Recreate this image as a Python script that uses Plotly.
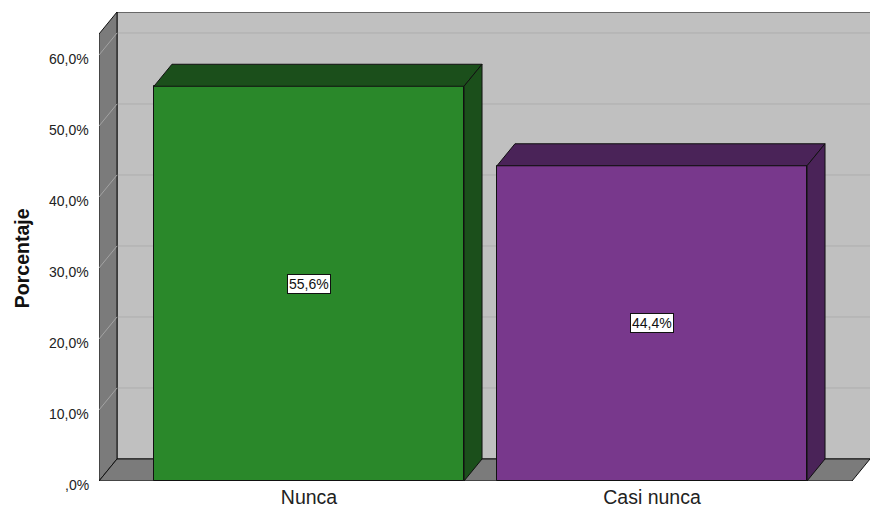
import plotly.graph_objects as go

# ---- data ----
categories = ["Nunca", "Casi nunca"]
values = [55.6, 44.4]
value_labels = ["55,6%", "44,4%"]
tick_values = [0, 10, 20, 30, 40, 50, 60]
tick_labels = [",0%", "10,0%", "20,0%", "30,0%", "40,0%", "50,0%", "60,0%"]
front_colors = ["#2a882a", "#78388c"]
dark_colors = ["#1b4f1b", "#4a2358"]

# ---- geometry (axis units) ----
X_MIN, X_MAX = -0.6122, 1.6356
Y_MAX = 66.06
DX = 0.0525      # depth offset in x units
DY = 3.10        # depth offset in y units
WALL_TOP = Y_MAX - DY
FLOOR_RIGHT = X_MAX - DX
BAR_W = 0.904
xpos = list(range(len(categories)))

WALL_BACK = "#c0c0c0"
WALL_SIDE = "#7b7b7b"
FONT = "Arial, Liberation Sans, sans-serif"

fig = go.Figure()
fig.add_trace(go.Bar(
    x=xpos, y=values, width=BAR_W,
    marker=dict(color=front_colors, line=dict(color="#111111", width=1)),
    hoverinfo="skip", showlegend=False,
))

shapes = []
# back wall
shapes.append(dict(type="rect", xref="x", yref="y", layer="below",
                   x0=X_MIN + DX, x1=X_MAX + 0.05, y0=DY, y1=Y_MAX,
                   fillcolor=WALL_BACK, line=dict(color="#111111", width=1)))
# back gridlines
for v in tick_values[1:]:
    shapes.append(dict(type="line", xref="x", yref="y", layer="below",
                       x0=X_MIN + DX, x1=X_MAX, y0=v + DY, y1=v + DY,
                       line=dict(color="#adadad", width=1)))
# side wall
shapes.append(dict(type="path", xref="x", yref="y", layer="below",
                   path=f"M {X_MIN},0 L {X_MIN},{WALL_TOP} L {X_MIN+DX},{Y_MAX} L {X_MIN+DX},{DY} Z",
                   fillcolor=WALL_SIDE, line=dict(color="#111111", width=1)))
for v in tick_values[1:]:
    shapes.append(dict(type="line", xref="x", yref="y", layer="below",
                       x0=X_MIN, x1=X_MIN + DX, y0=v, y1=v + DY,
                       line=dict(color="#a3a3a3", width=1)))
# floor
shapes.append(dict(type="path", xref="x", yref="y", layer="below",
                   path=f"M {X_MIN},0 L {FLOOR_RIGHT},0 L {X_MAX},{DY} L {X_MIN+DX},{DY} Z",
                   fillcolor=WALL_SIDE, line=dict(color="#111111", width=1)))

# bar top & side faces
for i, v in enumerate(values):
    x0 = xpos[i] - BAR_W / 2
    x1 = xpos[i] + BAR_W / 2
    shapes.append(dict(type="path", xref="x", yref="y",
                       path=f"M {x0},{v} L {x0+DX},{v+DY} L {x1+DX},{v+DY} L {x1},{v} Z",
                       fillcolor=dark_colors[i], line=dict(color="#111111", width=1)))
    shapes.append(dict(type="path", xref="x", yref="y",
                       path=f"M {x1},0 L {x1+DX},{DY} L {x1+DX},{v+DY} L {x1},{v} Z",
                       fillcolor=dark_colors[i], line=dict(color="#111111", width=1)))

annotations = []
for i, v in enumerate(values):
    annotations.append(dict(x=xpos[i], y=v / 2, xref="x", yref="y", text=value_labels[i],
                            showarrow=False, bgcolor="white", bordercolor="#111111",
                            borderwidth=1, borderpad=1,
                            font=dict(family=FONT, size=14, color="#111111")))
# y tick labels (sit slightly below the front grid position, as in the reference)
for v, t in zip(tick_values, tick_labels):
    annotations.append(dict(x=0, xref="paper", xanchor="right", xshift=-8,
                            y=v, yref="y", yshift=-4, text=t, showarrow=False,
                            font=dict(family=FONT, size=14, color="#222222")))
annotations.append(dict(x=0, xref="paper", xanchor="center", yanchor="middle",
                        xshift=-77, y=0.475, yref="paper",
                        text="<b>Porcentaje</b>", textangle=-90, showarrow=False,
                        font=dict(family=FONT, size=19.5, color="#111111")))

fig.update_layout(
    width=870, height=514,
    margin=dict(l=99, r=0, t=12, b=33),
    paper_bgcolor="white", plot_bgcolor="white",
    shapes=shapes, annotations=annotations,
    xaxis=dict(range=[X_MIN, X_MAX], tickvals=xpos, ticktext=categories,
               showgrid=False, zeroline=False, showline=False, ticks="",
               ticklabelstandoff=2,
               tickfont=dict(family=FONT, size=19.5, color="#222222")),
    yaxis=dict(range=[0, Y_MAX], showticklabels=False,
               showgrid=False, zeroline=False, showline=False, ticks=""),
    bargap=0,
)

fig.write_html("out.html", config={"displayModeBar": False},
               post_script="document.body.style.margin='0';document.body.style.overflow='hidden';")
